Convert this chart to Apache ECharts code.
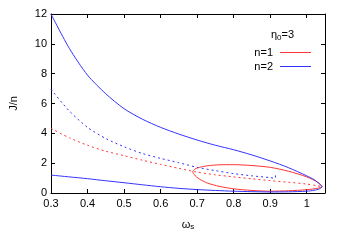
<!DOCTYPE html>
<html>
<head>
<meta charset="utf-8">
<script src="https://cdn.jsdelivr.net/npm/echarts@6/dist/echarts.min.js"></script>
<style>
html,body{margin:0;padding:0;background:#fff;}
#c{width:346px;height:242px;}
</style>
</head>
<body>
<div id="c"></div>
<script>
// n=2, solid branch (upper branch out to the turning point, then lower branch back)
const n2SolidW = [0.30,0.35,0.40,0.45,0.50,0.55,0.60,0.65,0.70,0.75,0.80,0.85,0.90,0.95,1.00,1.02,1.035,1.042,1.035,1.02,1.00,0.95,0.90,0.85,0.80,0.75,0.70,0.65,0.60,0.55,0.50,0.45,0.40,0.35,0.30];
const n2SolidJ = [12.0,9.7,7.9,6.65,5.65,4.95,4.4,3.95,3.55,3.2,2.9,2.55,2.15,1.7,1.15,0.9,0.6,0.42,0.28,0.18,0.12,0.08,0.07,0.09,0.12,0.17,0.23,0.31,0.42,0.55,0.69,0.82,0.96,1.08,1.2];
// n=2, dashed branch
const n2DashW = [0.30,0.35,0.40,0.45,0.50,0.55,0.60,0.65,0.70,0.75,0.80,0.85,0.90,0.913,0.915];
const n2DashJ = [6.95,5.5,4.4,3.65,3.1,2.65,2.32,2.03,1.72,1.5,1.3,1.15,1.03,0.98,1.38];
// n=1, solid loop
const n1SolidW = [0.687,0.695,0.71,0.73,0.76,0.80,0.85,0.90,0.95,1.00,1.03,1.042,1.03,1.00,0.95,0.90,0.85,0.80,0.76,0.73,0.71,0.695,0.687];
const n1SolidJ = [1.43,1.62,1.74,1.83,1.89,1.9,1.84,1.72,1.46,1.08,0.72,0.42,0.32,0.22,0.15,0.12,0.17,0.28,0.45,0.65,0.88,1.15,1.43];
// n=1, dashed branch
const n1DashW = [0.30,0.35,0.40,0.45,0.50,0.55,0.60,0.65,0.70,0.75,0.80,0.85,0.90,0.95,1.00,1.03,1.042];
const n1DashJ = [4.33,3.7,3.2,2.8,2.5,2.2,1.92,1.65,1.4,1.22,1.08,0.95,0.83,0.72,0.6,0.48,0.42];

const xTicks = {min:0.3, max:1.05, interval:0.1};
const yTicks = {min:0, max:12, interval:2};

const RED = '#ff3333', BLUE = '#3333ff';
const zip = (a,b) => a.map((v,i)=>[v,b[i]]);
const FONT = 'Liberation Sans';

const chart = echarts.init(document.getElementById('c'), null, {renderer:'canvas'});
const axisCommon = {
  axisLine:{show:true, onZero:false, lineStyle:{color:'#000', width:1}},
  axisTick:{show:true, inside:true, length:4, lineStyle:{color:'#000'}},
  splitLine:{show:false}
};
chart.setOption({
  animation:false,
  grid:{left:49, right:21, top:14, bottom:49},
  title:{
    text:'η{sub|0}=3', right:47, top:23,
    textStyle:{fontFamily:FONT, fontSize:11, fontWeight:'normal', color:'#000',
      rich:{sub:{fontFamily:FONT, fontSize:8, verticalAlign:'bottom', padding:[6,0,0,0]}}}
  },
  legend:{
    data:['n=1','n=2'], orient:'vertical', align:'right', right:35, top:47, padding:0,
    itemWidth:31, itemHeight:1, itemGap:3, icon:'rect',
    textStyle:{fontFamily:FONT, fontSize:11, color:'#000', padding:[0,2,0,0]}
  },
  xAxis:[
    Object.assign({type:'value', min:xTicks.min, max:xTicks.max, interval:xTicks.interval, position:'bottom',
      name:'ω{sub|s}', nameLocation:'middle', nameGap:25,
      nameTextStyle:{fontFamily:FONT, fontSize:11, color:'#000', rich:{sub:{fontFamily:FONT,fontSize:8,verticalAlign:'bottom',padding:[5,0,0,0]}}},
      axisLabel:{fontFamily:FONT, fontSize:11, color:'#000', margin:5, showMaxLabel:false,
        formatter:v => (Math.abs(v-1)<1e-9 ? '1' : v.toFixed(1))}}, axisCommon),
    Object.assign({type:'value', min:xTicks.min, max:xTicks.max, interval:xTicks.interval, position:'top',
      axisLabel:{show:false}}, axisCommon)
  ],
  yAxis:[
    Object.assign({type:'value', min:yTicks.min, max:yTicks.max, interval:yTicks.interval, position:'left',
      name:'J/n', nameLocation:'middle', nameGap:32,
      nameTextStyle:{fontFamily:FONT, fontSize:11, color:'#000'},
      axisLabel:{fontFamily:FONT, fontSize:11, color:'#000', margin:4}}, axisCommon),
    Object.assign({type:'value', min:yTicks.min, max:yTicks.max, interval:yTicks.interval, position:'right',
      axisLabel:{show:false}}, axisCommon)
  ],
  series:[
    {name:'n=1', type:'line', data:zip(n1SolidW,n1SolidJ), showSymbol:false, smooth:0.25, color:RED,
      lineStyle:{width:1, color:RED}},
    {name:'n=2', type:'line', data:zip(n2SolidW,n2SolidJ), showSymbol:false, smooth:0.25, color:BLUE,
      lineStyle:{width:1, color:BLUE}},
    {name:'n=1 dashed', type:'line', data:zip(n1DashW,n1DashJ), showSymbol:false, smooth:0.25, color:RED,
      lineStyle:{width:1, color:RED, type:[2,3]}},
    {name:'n=2 dashed', type:'line', data:zip(n2DashW,n2DashJ), showSymbol:false, smooth:0.25, color:BLUE,
      lineStyle:{width:1, color:BLUE, type:[2,3]}}
  ]
});
</script>
</body>
</html>
